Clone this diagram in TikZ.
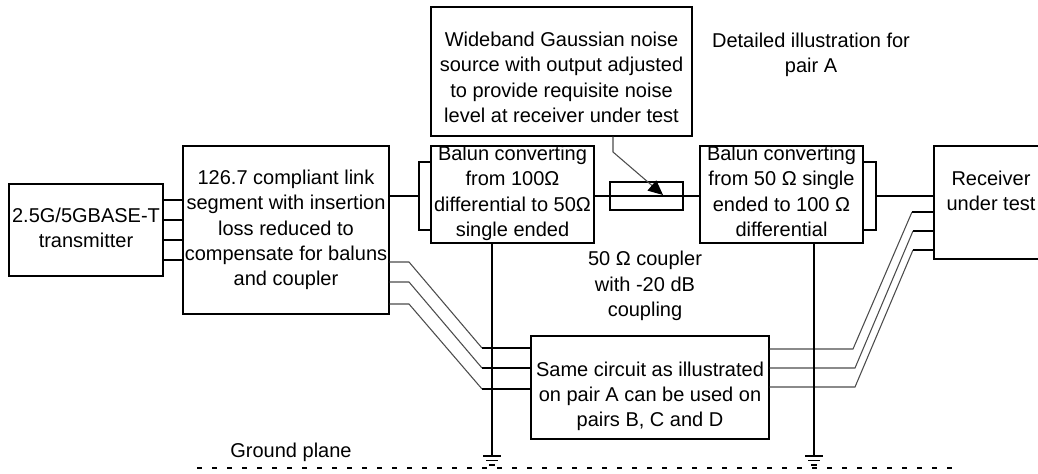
\documentclass[tikz,border=0pt]{standalone}
\usepackage{fontspec}
\setmainfont{Liberation Sans}
\usetikzlibrary{arrows.meta}
\newcommand{\groundsym}[1]{\draw[w] (#1) ++(-9,0) -- ++(18,0) (#1) ++(-6,4.5) -- ++(12,0) (#1) ++(-3,9) -- ++(6,0);}
\begin{document}
\begin{tikzpicture}[
  x=0.75pt,y=-0.75pt,
  n/.style={rectangle,draw,line width=1.1pt,inner sep=0pt,align=center,font=\fontsize{15}{18.9}\selectfont},
  t/.style={align=center,inner sep=0pt,font=\fontsize{15}{18.9}\selectfont},
  w/.style={line width=1.1pt},
  g/.style={line width=0.8pt,black!70},
  a/.style={-{Triangle[length=11pt,width=10pt,black]},g}
]
\path[use as bounding box,clip] (0,0) rectangle (1038,474);
\node[n,minimum width=115.5pt,minimum height=69pt] (tx) at (86,230) {2.5G/5GBASE-T\\transmitter\rule[-3.5pt]{0pt}{3.5pt}};
\node[n,minimum width=154.5pt,minimum height=126pt] (link) at (286,230) {126.7 compliant link\\segment with insertion\\loss reduced to\\compensate for baluns\\and coupler};
\node[n,inner ysep=-4pt,minimum width=122pt,minimum height=72.75pt] (balunA) at (512.5,194.5) {Balun converting\\from 100Ω\\differential to 50Ω\\single ended\rule[-5pt]{0pt}{5pt}};
\node[n,inner ysep=-4pt,minimum width=122pt,minimum height=72.75pt] (balunB) at (781.5,194.5) {Balun converting\\from 50 Ω single\\ended to 100 Ω\\differential\rule[-5pt]{0pt}{5pt}};
\node[n,minimum width=54.75pt,minimum height=21pt] (coupler) at (646.5,196) {};
\node[n,minimum width=195.75pt,minimum height=96.75pt] (noise) at (561.5,71.5) {\rule{0pt}{19.5pt}Wideband Gaussian noise\\source with output adjusted\\to provide requisite noise\\level at receiver under test};
\node[n,minimum width=85.5pt,minimum height=84.75pt] (rx) at (991,202.5) {Receiver\\under test\rule[-18pt]{0pt}{18pt}};
\node[n,minimum width=178.5pt,minimum height=77.25pt] (same) at (650,387.5) {\rule{0pt}{24pt}Same circuit as illustrated\\on pair A can be used on\\pairs B, C and D};
\node[t] (detail) at (811,55) {Detailed illustration for\\pair A};
\node[t] (couplertxt) at (645,286) {50 Ω coupler\\with -20 dB\\coupling};
\node[t] (plane) at (291,452) {Ground plane};
\coordinate (gndA) at (492,456);
\coordinate (gndB) at (814,456);
\coordinate (brktA) at (419,196);
\coordinate (brktB) at (876,196);

\draw[w] (tx.east |- 0,200) -- (link.west |- 0,200);
\draw[w] (tx.east |- 0,220) -- (link.west |- 0,220);
\draw[w] (tx.east |- 0,240) -- (link.west |- 0,240);
\draw[w] (tx.east |- 0,260) -- (link.west |- 0,260);
\draw[w] (link.east |- brktA) -- (brktA);
\draw[w] (balunA.west |- 0,162) -| (brktA) |- (balunA.west |- 0,230);
\draw[w] (balunA.east |- coupler) -- (balunB.west |- coupler);
\draw[w] (balunB.east |- 0,162) -| (brktB) |- (balunB.east |- 0,230);
\draw[w] (brktB) -- (rx.west |- brktB);
\draw[a] (noise.south -| 613,0) -- (613,152) -- (663,195);
\draw[g] (link.east |- 0,262) -- (409,262) -- (482,348);
\draw[g] (link.east |- 0,282) -- (409,282) -- (482,368);
\draw[g] (link.east |- 0,304) -- (409,304) -- (482,389);
\draw[w] (482,348) -- (same.west |- 0,348);
\draw[w] (482,368) -- (same.west |- 0,368);
\draw[w] (482,389) -- (same.west |- 0,389);
\draw[g] (same.east |- 0,349) -- (853,349) -- (912,212);
\draw[g] (same.east |- 0,368) -- (855,368) -- (913,231);
\draw[g] (same.east |- 0,387) -- (855,387) -- (913,250);
\draw[w] (912,212) -- (rx.west |- 0,212);
\draw[w] (913,231) -- (rx.west |- 0,231);
\draw[w] (913,250) -- (rx.west |- 0,250);
\draw[w] (balunA.south -| gndA) -- (gndA);
\draw[w] (balunB.south -| gndB) -- (gndB);
\groundsym{gndA}
\groundsym{gndB}
\draw[line width=1.6pt,dash pattern=on 3.75pt off 7.5pt] (197,468) -- (961,468);
\end{tikzpicture}
\end{document}
